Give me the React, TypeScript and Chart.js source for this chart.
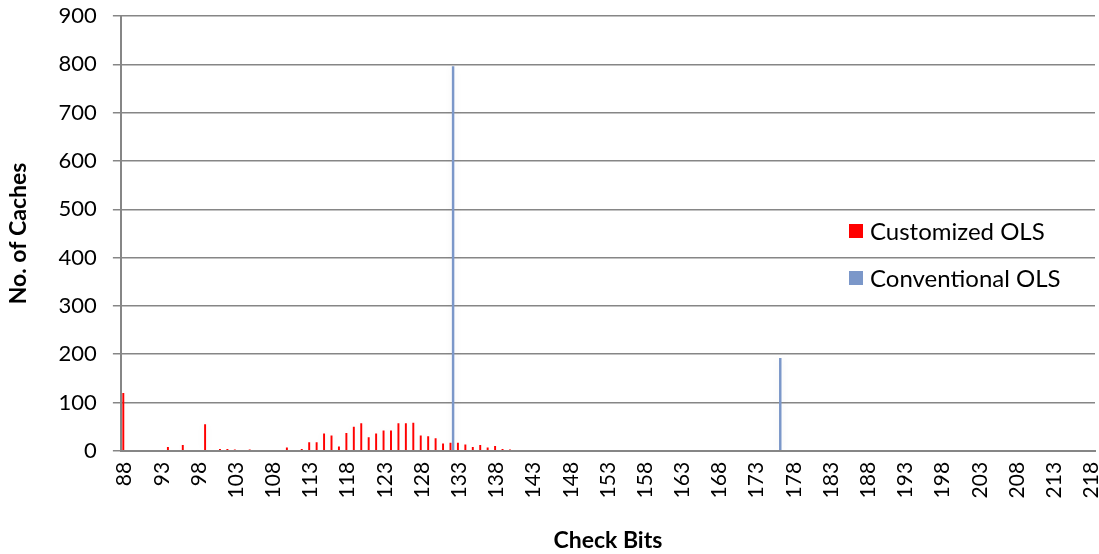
import React, { useEffect, useRef } from "react";
import { Chart, registerables } from "chart.js";

Chart.register(...registerables);

const firstBit = 88;
const lastBit = 218;
const categories: string[] = Array.from({ length: lastBit - firstBit + 1 }, (_, i) => String(firstBit + i));

// values for check bits 88..218
const customizedOLS: number[] = [
  120, 0, 0, 0, 0, 0, 8, 0, 12, 0, // 88-97
  0, 55, 0, 4, 4, 3, 0, 3, 0, 0, // 98-107
  0, 0, 7, 0, 4, 18, 18, 36, 32, 9, // 108-117
  37, 50, 57, 28, 36, 42, 42, 57, 57, 58, // 118-127
  32, 30, 26, 15, 17, 17, 13, 8, 12, 7, // 128-137
  10, 4, 3, 0, 0, 0, 0, 0, 0, 0, // 138-147
  0, 0, 0, 0, 0, 0, 0, 0, 0, 0, // 148-157
  0, 0, 0, 0, 0, 0, 0, 0, 0, 0, // 158-167
  0, 0, 0, 0, 0, 0, 0, 0, 0, 0, // 168-177
  0, 0, 0, 0, 0, 0, 0, 0, 0, 0, // 178-187
  0, 0, 0, 0, 0, 0, 0, 0, 0, 0, // 188-197
  0, 0, 0, 0, 0, 0, 0, 0, 0, 0, // 198-207
  0, 0, 0, 0, 0, 0, 0, 0, 0, 0, // 208-217
  0, // 218
];

const conventionalOLS: number[] = [
  2, 0, 0, 0, 0, 0, 0, 0, 0, 0, // 88-97
  0, 0, 0, 0, 0, 0, 0, 0, 0, 0, // 98-107
  0, 0, 0, 0, 0, 0, 0, 0, 0, 0, // 108-117
  0, 0, 0, 0, 0, 0, 0, 0, 0, 0, // 118-127
  0, 0, 0, 0, 796, 0, 0, 0, 0, 0, // 128-137
  0, 0, 0, 0, 0, 0, 0, 0, 0, 0, // 138-147
  0, 0, 0, 0, 0, 0, 0, 0, 0, 0, // 148-157
  0, 0, 0, 0, 0, 0, 0, 0, 0, 0, // 158-167
  0, 0, 0, 0, 0, 0, 0, 0, 192, 0, // 168-177
  0, 0, 0, 0, 0, 0, 0, 0, 0, 0, // 178-187
  0, 0, 0, 0, 0, 0, 0, 0, 0, 0, // 188-197
  0, 0, 0, 0, 0, 0, 0, 0, 0, 0, // 198-207
  0, 0, 0, 0, 0, 0, 0, 0, 0, 0, // 208-217
  0, // 218
];

const seriesNames = ["Customized OLS", "Conventional OLS"];
const seriesColors = ["#ff0000", "#7b97c9"];
const yTitle = "No. of Caches";
const xTitle = "Check Bits";

const FONT = "Lato, 'Liberation Sans', sans-serif";

const shadowPlugin = {
  id: "barShadow",
  beforeDatasetsDraw(chart: any) {
    const ctx = chart.ctx;
    ctx.save();
    ctx.shadowColor = "rgba(0,0,0,0.07)";
    ctx.shadowBlur = 8;
    ctx.shadowOffsetX = 0;
    ctx.shadowOffsetY = 0;
  },
  afterDatasetsDraw(chart: any) {
    chart.ctx.restore();
  },
};

const legendPlugin = {
  id: "customLegend",
  afterDraw(chart: any) {
    const ctx = chart.ctx;
    const ca = chart.chartArea;
    const x = ca.right - 246;
    const ys = [231, 278];
    ctx.save();
    chart.data.datasets.forEach((ds: any, i: number) => {
      const y = ys[i];
      ctx.fillStyle = ds.backgroundColor;
      ctx.fillRect(x, y - 7, 14, 14);
      ctx.fillStyle = "#000";
      ctx.font = `24px ${FONT}`;
      ctx.textBaseline = "middle";
      ctx.textAlign = "left";
      ctx.fillText(ds.label, x + 21, y + 1);
    });
    ctx.restore();
  },
};

export default function App() {
  const ref = useRef<HTMLCanvasElement | null>(null);
  useEffect(() => {
    if (!ref.current) return;
    const chart = new Chart(ref.current, {
      type: "bar",
      data: {
        labels: categories,
        datasets: [
          {
            label: seriesNames[0],
            data: customizedOLS,
            backgroundColor: seriesColors[0],
            categoryPercentage: 0.7,
            barPercentage: 0.75,
          },
          {
            label: seriesNames[1],
            data: conventionalOLS,
            backgroundColor: seriesColors[1],
            categoryPercentage: 0.7,
            barPercentage: 0.95,
          },
        ],
      },
      options: {
        animation: false,
        responsive: false,
        maintainAspectRatio: false,
        layout: { padding: { top: 0, right: 4, left: 5, bottom: 0 } },
        plugins: {
          legend: { display: false },
          tooltip: { enabled: false },
        },
        scales: {
          x: {
            afterFit: (axis: any) => {
              axis.paddingLeft = 0;
              axis.paddingRight = 0;
            },
            grid: { display: false, drawTicks: false },
            border: { color: "#868686", width: 2 },
            ticks: {
              autoSkip: false,
              maxRotation: 90,
              minRotation: 90,
              padding: 11,
              color: "#000",
              font: { family: FONT, size: 21 },
              callback: (_v: any, i: number) => (i % 5 === 0 ? categories[i] : ""),
            },
            title: {
              display: true,
              text: xTitle,
              color: "#000",
              font: { family: FONT, size: 23, weight: "bold" },
              padding: { top: 17, bottom: 0 },
            },
          },
          y: {
            afterFit: (axis: any) => {
              axis.paddingTop = 16;
              axis.paddingBottom = 0;
            },
            min: 0,
            max: 900,
            grid: { color: "#868686", lineWidth: 1.5, tickLength: 8 },
            border: { color: "#868686", width: 2 },
            ticks: {
              stepSize: 100,
              color: "#000",
              padding: 16,
              font: { family: FONT, size: 22 },
            },
            title: {
              display: true,
              text: yTitle,
              color: "#000",
              font: { family: FONT, size: 23, weight: "bold" },
              padding: { top: 0, bottom: 10 },
            },
          },
        },
      },
      plugins: [shadowPlugin, legendPlugin],
    });
    return () => chart.destroy();
  }, []);
  return (
    <div style={{ position: "absolute", left: 0, top: 0, width: 1099, height: 554, background: "#fff" }}>
      <canvas ref={ref} width={1099} height={554} />
    </div>
  );
}
